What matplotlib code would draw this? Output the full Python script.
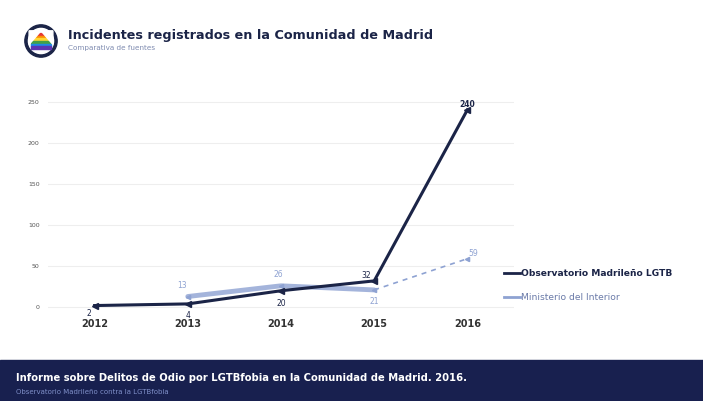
import numpy as np
import matplotlib.pyplot as plt
from matplotlib.patches import Circle, Rectangle, Polygon

years = ["2012", "2013", "2014", "2015", "2016"]
observatorio = [2, 4, 20, 32, 240]
interior_years = ["2013", "2014", "2015", "2016"]
interior = [13, 26, 21, 59]
y_ticks = [0, 50, 100, 150, 200, 250]

navy = "#1b2447"
light = "#8ea2d2"

fig = plt.figure(figsize=(7.03, 4.01), dpi=100)
W, H = 703, 401


def fx(px):
    return px / W


def fy(py):
    return 1 - py / H


ax = fig.add_axes([fx(48), fy(322), fx(514) - fx(48), fy(95) - fy(322)])
x = np.arange(len(years))
xi = np.array([years.index(y) for y in interior_years])

ax.set_xlim(-0.5, len(years) - 0.5)
ax.set_ylim(-18, 258)
ax.set_yticks(y_ticks)
ax.set_yticklabels([str(v) for v in y_ticks], fontsize=4.5, color="#555555")
ax.set_xticks(x)
ax.set_xticklabels(years, fontsize=7, color="#333333", fontweight="bold")
ax.tick_params(length=0, pad=6)
ax.tick_params(axis="x", pad=-2)
for s in ax.spines.values():
    s.set_visible(False)
ax.grid(axis="y", color="#eeeeee", linewidth=0.8)
ax.set_axisbelow(True)

# Ministerio del Interior: solid until 2015, dashed to 2016
ax.plot(xi[:3], interior[:3], color=light, linewidth=3.5, alpha=0.8,
        solid_capstyle="round")
ax.plot(xi[2:], interior[2:], color=light, linewidth=1.2, linestyle=(0, (3, 3)))
ax.plot(xi, interior, linestyle="none", marker="<", markersize=3, color=light)

# Observatorio
ax.plot(x, observatorio, color=navy, linewidth=2.2, marker="<", markersize=4)

obs_off = [(-4, -6), (0, -8), (0, -9), (-6, 4), (0, 4)]
for xv, v, (dx, dy) in zip(x, observatorio, obs_off):
    ax.annotate(str(v), (xv, v), xytext=(dx, dy), textcoords="offset points",
                ha="center", va="center", fontsize=5.5, color=navy,
                fontweight="bold" if v == 240 else "normal")
int_off = [(-4, 8), (-2, 8), (0, -8), (4, 4)]
for xv, v, (dx, dy) in zip(xi, interior, int_off):
    ax.annotate(str(v), (xv, v), xytext=(dx, dy), textcoords="offset points",
                ha="center", va="center", fontsize=5.5, color=light)

# legend
fig.lines.append(plt.Line2D([fx(504), fx(520)], [fy(273), fy(273)],
                            color=navy, linewidth=2, transform=fig.transFigure))
fig.text(fx(521), fy(273), "Observatorio Madrileño LGTB", fontsize=6.6,
         color=navy, va="center", fontweight="bold")
fig.lines.append(plt.Line2D([fx(504), fx(520)], [fy(297), fy(297)],
                            color=light, linewidth=2, transform=fig.transFigure))
fig.text(fx(521), fy(297), "Ministerio del Interior", fontsize=6.6,
         color="#6a7aa8", va="center")

# header
fig.text(fx(68), fy(36), "Incidentes registrados en la Comunidad de Madrid",
         fontsize=9.2, fontweight="bold", color=navy, va="center")
fig.text(fx(68), fy(48), "Comparativa de fuentes", fontsize=5.2,
         color="#7f8bb0", va="center")

# logo
lax = fig.add_axes([fx(24), fy(58), fx(58) - fx(24), fy(24) - fy(58)])
lax.set_xlim(-1, 1)
lax.set_ylim(-1, 1)
lax.set_aspect("equal")
lax.axis("off")
lax.add_patch(Circle((0, 0), 0.95, color=navy))
lax.add_patch(Circle((0, 0), 0.74, color="white"))
cols = ["#e53935", "#fb8c00", "#fdd835", "#43a047", "#1e88e5", "#5e35b1"]
for i, c in enumerate(cols):
    y0 = 0.45 - i * 0.15
    lax.add_patch(Rectangle((-0.6, y0 - 0.15), 1.2, 0.15, color=c))
lax.add_patch(Polygon([[-0.7, 0.6], [0.0, 0.6], [-0.7, -0.2]], color="white"))
lax.add_patch(Polygon([[0.7, 0.6], [0.0, 0.6], [0.7, -0.2]], color="white"))

# footer band
fig.patches.append(Rectangle((0, 0), 1, fy(360), transform=fig.transFigure,
                             color="#18204f", zorder=0))
fig.text(fx(16), fy(378),
         "Informe sobre Delitos de Odio por LGTBfobia en la Comunidad de Madrid. 2016.",
         fontsize=7.2, fontweight="bold", color="white", va="center")
fig.text(fx(16), fy(392), "Observatorio Madrileño contra la LGTBfobia",
         fontsize=5, color="#7f8fc8", va="center")

fig.savefig("out.png", dpi=100)
